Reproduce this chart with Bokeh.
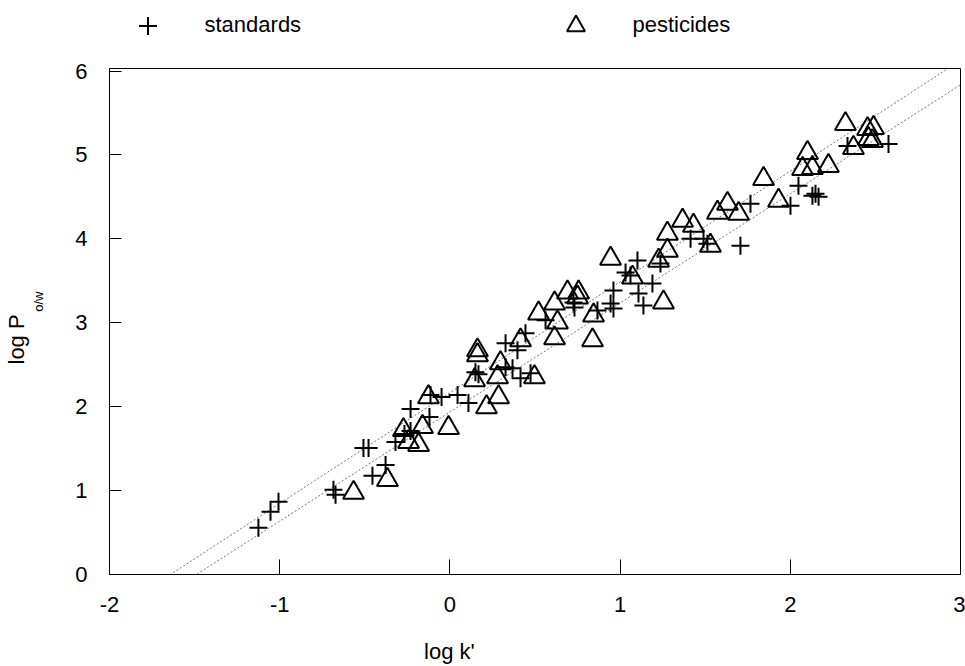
import math
import numpy as np
from bokeh.plotting import figure
from bokeh.layouts import column
from bokeh.models import Range1d, FixedTicker, Legend, LegendItem, Title
from bokeh.embed import file_html
from bokeh.resources import INLINE

# ---- data ----
std_logk = [-1.125, -1.054, -1.007, -0.684, -0.672, -0.455, -0.378, -0.508, -0.478, -0.320,
            -0.267, -0.231, -0.231, -0.120, -0.114, -0.049, 0.045, 0.109, 0.150, 0.168,
            0.327, 0.444, 0.397, 0.327, 0.368, 0.415, 0.474, 0.562, 0.726, 0.732,
            0.867, 0.944, 0.961, 0.961, 1.032, 1.061, 1.102, 1.108, 1.137, 1.190,
            1.237, 1.414, 1.490, 1.513, 1.707, 1.766, 2.001, 2.048, 2.130, 2.148,
            2.166, 2.336, 2.577]
std_logp = [0.558, 0.748, 0.867, 1.010, 0.950, 1.176, 1.306, 1.508, 1.508, 1.580,
            1.675, 1.710, 1.971, 1.876, 2.138, 2.114, 2.138, 2.043, 2.411, 2.387,
            2.755, 2.874, 2.672, 2.470, 2.458, 2.340, 2.399, 3.029, 3.242, 3.183,
            3.147, 3.230, 3.171, 3.385, 3.599, 3.563, 3.741, 3.349, 3.207, 3.468,
            3.705, 4.002, 4.002, 3.943, 3.919, 4.418, 4.394, 4.632, 4.513, 4.537,
            4.501, 5.107, 5.131]

pest_logk = [-0.566, -0.367, -0.273, -0.243, -0.184, -0.161, -0.008, -0.126, 0.215, 0.286,
             0.145, 0.162, 0.162, 0.280, 0.297, 0.415, 0.497, 0.615, 0.632, 0.521,
             0.615, 0.691, 0.756, 0.750, 0.844, 0.838, 0.944, 1.073, 1.226, 1.278,
             1.255, 1.278, 1.367, 1.431, 1.531, 1.572, 1.631, 1.696, 1.843, 1.931,
             2.072, 2.130, 2.101, 2.224, 2.324, 2.371, 2.454, 2.489, 2.459, 2.483]
pest_logp = [0.974, 1.128, 1.722, 1.580, 1.544, 1.758, 1.746, 2.114, 1.995, 2.114,
             2.316, 2.672, 2.613, 2.352, 2.518, 2.791, 2.352, 2.815, 3.005, 3.112,
             3.230, 3.361, 3.361, 3.302, 3.088, 2.791, 3.765, 3.539, 3.741, 3.860,
             3.242, 4.062, 4.216, 4.157, 3.919, 4.311, 4.418, 4.299, 4.715, 4.454,
             4.834, 4.846, 5.024, 4.869, 5.368, 5.083, 5.309, 5.321, 5.190, 5.166]

fit_slope = [1.32, 1.30]
fit_intercept = [2.167, 1.936]

x_ticks = [-2, -1, 0, 1, 2, 3]
y_ticks = [0, 1, 2, 3, 4, 5, 6]
series_labels = ["standards", "pesticides"]
x_title = "log k'"
y_title = "log P"
y_title_sub = "o/w"

FONT = "Liberation Sans"
NBSP = "\u00a0"
STD_STYLE = dict(marker="cross", size=18, line_color="black", line_width=2)
PEST_STYLE = dict(marker="triangle", size=21, fill_color=None, line_color="black", line_width=2)

# ---------------- main plot ----------------
p = figure(width=965, height=616, output_backend="svg", toolbar_location=None,
           x_range=Range1d(-2, 3), y_range=Range1d(0, 6.03),
           min_border_left=109, min_border_right=5, min_border_top=18, min_border_bottom=91)
p.grid.visible = False
p.outline_line_color = "black"
p.outline_line_width = 1
p.background_fill_color = "white"
p.border_fill_color = "white"

for ax, ticks, tick_len in ((p.xaxis[0], x_ticks, 15), (p.yaxis[0], y_ticks, 12)):
    ax.ticker = FixedTicker(ticks=ticks)
    ax.major_label_overrides = {t: str(t) for t in ticks}
    ax.major_tick_in = tick_len
    ax.major_tick_out = 0
    ax.minor_tick_in = 0
    ax.minor_tick_out = 0
    ax.major_label_standoff = 22
    ax.major_label_text_font = FONT
    ax.major_label_text_font_size = "22px"
    ax.major_label_text_color = "black"
    ax.axis_line_color = "black"
    ax.major_tick_line_color = "black"
    ax.axis_label_text_font = FONT
    ax.axis_label_text_font_style = "normal"
    ax.axis_label_text_color = "black"

# x title, moved left (under x = 0) with trailing nbsp
p.xaxis.axis_label = x_title + NBSP * 28
p.xaxis.axis_label_standoff = 24
p.xaxis.axis_label_text_font_size = "22px"

# subscript of the y title, as the y axis' own label (nudged upward with leading nbsp)
p.yaxis.axis_label = NBSP * 11 + y_title_sub
p.yaxis.axis_label_standoff = 26
p.yaxis.axis_label_text_font_size = "13px"

# main part of the y title, outside the axis
p.add_layout(Title(text=y_title, align="left", offset=210, standoff=0,
                   text_font=FONT, text_font_size="22px", text_font_style="normal",
                   text_color="black"), "left")

# regression lines
xs_line = np.array([x_ticks[0], x_ticks[-1]], dtype=float)
for m, b in zip(fit_slope, fit_intercept):
    p.line(xs_line, m * xs_line + b, line_color="#666666", line_width=0.9, line_dash="2 2")

p.scatter(std_logk, std_logp, **STD_STYLE)
p.scatter(pest_logk, pest_logp, **PEST_STYLE)

# ---------------- legend strip above the plot ----------------
# (its ranges lie far outside the data, so only the legend itself is visible)
leg = figure(width=965, height=50, output_backend="svg", toolbar_location=None,
             x_range=Range1d(10, 11), y_range=Range1d(10, 11),
             x_axis_location=None, y_axis_location=None,
             min_border_left=0, min_border_right=0, min_border_top=0, min_border_bottom=0)
leg.grid.visible = False
leg.outline_line_color = None
leg.background_fill_color = "white"
leg.border_fill_color = "white"
lr_std = leg.scatter(std_logk, std_logp, **STD_STYLE)
lr_pest = leg.scatter(pest_logk, pest_logp, **PEST_STYLE)

legend = Legend(items=[LegendItem(label=series_labels[0], renderers=[lr_std]),
                       LegendItem(label=series_labels[1], renderers=[lr_pest])],
                orientation="horizontal", location=(2.5, 2.5),
                glyph_width=71, glyph_height=45, label_standoff=22, label_width=100,
                spacing=235, padding=0, margin=0, border_line_color=None,
                background_fill_alpha=0, label_text_font=FONT, label_text_font_size="22px",
                label_text_color="black")
leg.add_layout(legend)

open("out.html", "w").write(file_html(column(leg, p, spacing=0), INLINE))
